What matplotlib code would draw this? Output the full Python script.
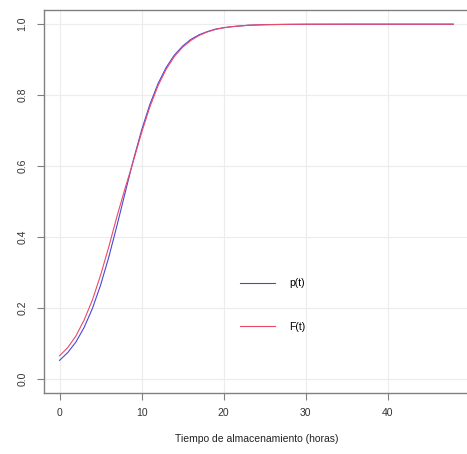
import matplotlib
matplotlib.use("Agg")
import matplotlib.pyplot as plt

plt.rcParams['font.family'] = ['Liberation Sans', 'DejaVu Sans']

# Time (hours)
t_hours = [0, 1, 2, 3, 4, 5, 6, 7, 8, 9, 10, 11, 12, 13, 14, 15, 16, 17, 18,
           19, 20, 21, 22, 23, 24, 25, 26, 28, 30, 36, 42, 48]
# p(t)
p_vals = [0.052, 0.074, 0.104, 0.145, 0.198, 0.264, 0.343, 0.432, 0.525, 0.617,
          0.701, 0.773, 0.832, 0.878, 0.913, 0.938, 0.957, 0.970, 0.979, 0.986,
          0.990, 0.993, 0.995, 0.997, 0.9977, 0.9985, 0.999, 0.9995, 0.9998,
          1.0, 1.0, 1.0]
# F(t)
F_vals = [0.065, 0.088, 0.121, 0.166, 0.222, 0.292, 0.372, 0.458, 0.538, 0.614,
          0.694, 0.766, 0.826, 0.873, 0.909, 0.935, 0.954, 0.968, 0.978, 0.985,
          0.990, 0.993, 0.995, 0.997, 0.998, 0.9986, 0.999, 0.9995, 0.9998,
          1.0, 1.0, 1.0]

x_ticks = [0, 10, 20, 30, 40]
y_ticks = [0.0, 0.2, 0.4, 0.6, 0.8, 1.0]
xlabel = "Tiempo de almacenamiento (horas)"

W, H = 467, 454
fig = plt.figure(figsize=(W / 100, H / 100), dpi=100)
ax = fig.add_axes([43.8 / W, 61 / H, (469 - 43.8) / W, (393 - 10) / H])

ax.set_xlim(-1.92, 49.92)
ax.set_ylim(-0.04, 1.04)

ax.set_xticks(x_ticks)
ax.set_yticks(y_ticks)
ax.set_yticklabels([f"{v:.1f}" for v in y_ticks], rotation=90, va='center')

for v in x_ticks:
    ax.axvline(v, color='#ececec', lw=0.8, zorder=0)
for v in y_ticks:
    ax.axhline(v, color='#ececec', lw=0.8, zorder=0)

ax.plot(t_hours, p_vals, color='#4848d8', lw=0.8, label='p(t)')
ax.plot(t_hours, F_vals, color='#ea4a68', lw=0.8, label='F(t)')

for s in ax.spines.values():
    s.set_color('#808080')
    s.set_linewidth(1.0)

ax.tick_params(axis='both', colors='#808080', labelcolor='#333333',
               labelsize=7.5, length=5, width=0.8, direction='out')
ax.tick_params(axis='x', pad=6)
ax.tick_params(axis='y', pad=7)

ax.set_xlabel(xlabel, fontsize=7.5, color='#222222', labelpad=11)

ax.legend(loc='upper left',
          bbox_to_anchor=((231 - 43.8) / (469 - 43.8), (393 - 269) / (393 - 10)),
          frameon=False, fontsize=7.5, handlelength=3.3, handletextpad=1.35,
          labelspacing=3.2)

fig.savefig("out.png", dpi=100)
